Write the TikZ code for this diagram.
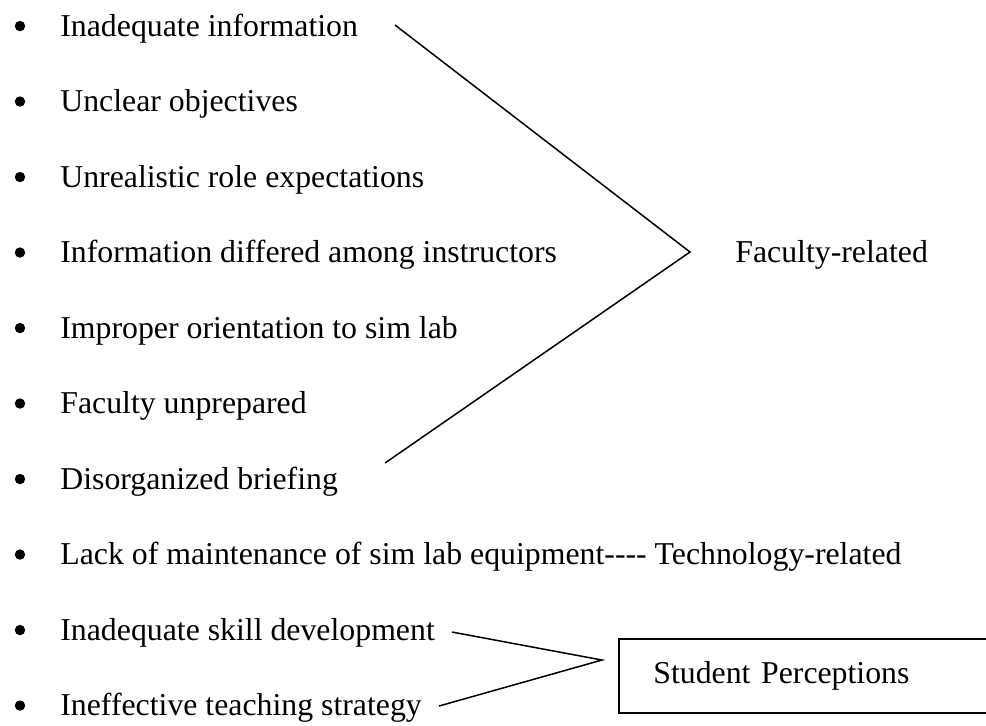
\documentclass[tikz,border=0pt]{standalone}
\usepackage{fontspec}
\setmainfont{Liberation Serif}
\usepackage{xcolor}
\usepackage{tikz}
\usetikzlibrary{positioning}
\tikzset{
  bul/.style={circle, fill, inner sep=0, minimum size=5.2pt, yshift=1.5pt},
  item/.style={anchor=west, inner sep=0, text height=10.8pt, text depth=3.5pt},
  brace/.style={line width=0.75pt, line join=miter},
}

\begin{document}
\begin{tikzpicture}[font=\fontsize{15.9}{19}\selectfont]
		\clip (0,0) rectangle (17.327,12.741);
		% bullets and items
		\node[bul] (b1) at (0.351,12.230) {};
		\node[item] (r1) at (1.054,12.230) {Inadequate information};
		\node[bul] (b2) at (0.351,10.904) {};
		\node[item] (r2) at (1.054,10.904) {Unclear objectives};
		\node[bul] (b3) at (0.351,9.577) {};
		\node[item] (r3) at (1.054,9.577) {Unrealistic role expectations};
		\node[bul] (b4) at (0.351,8.250) {};
		\node[item] (r4) at (1.054,8.250) {Information differed among instructors};
		\node[bul] (b5) at (0.351,6.923) {};
		\node[item] (r5) at (1.054,6.923) {Improper orientation to sim lab};
		\node[bul] (b6) at (0.351,5.597) {};
		\node[item] (r6) at (1.054,5.597) {Faculty unprepared};
		\node[bul] (b7) at (0.351,4.270) {};
		\node[item] (r7) at (1.054,4.270) {Disorganized briefing};
		\node[bul] (b8) at (0.351,2.943) {};
		\node[item] (r8) at (1.054,2.943) {Lack of maintenance of sim lab equipment-{}-{}-{}- Technology-related};
		\node[bul] (b9) at (0.351,1.616) {};
		\node[item] (r9) at (1.054,1.616) {Inadequate skill development};
		\node[bul] (b10) at (0.351,0.290) {};
		\node[item] (r10) at (1.054,0.290) {Ineffective teaching strategy};
		% groups
		\node[item] (fac) at (12.916,8.259) {Faculty-related};
		\node[draw, line width=1.2pt, anchor=west, minimum height=1.30cm,
		      inner xsep=0.6cm, text width=5.9cm, align=left] (stud) at (10.860,0.861) {Student Perceptions};
		% braces
		\coordinate (ftop) at (6.941,12.301);
		\coordinate (fapex) at (12.125,8.312);
		\coordinate (fbot) at (6.766,4.604);
		\coordinate (stop) at (7.943,1.634);
		\coordinate (sapex) at (10.579,1.142);
		\coordinate (sbot) at (7.715,0.334);
		\draw[brace] (ftop) -- (fapex) -- (fbot);
		\draw[brace] (stop) -- (sapex) -- (sbot);
		\end{tikzpicture}
\end{document}
